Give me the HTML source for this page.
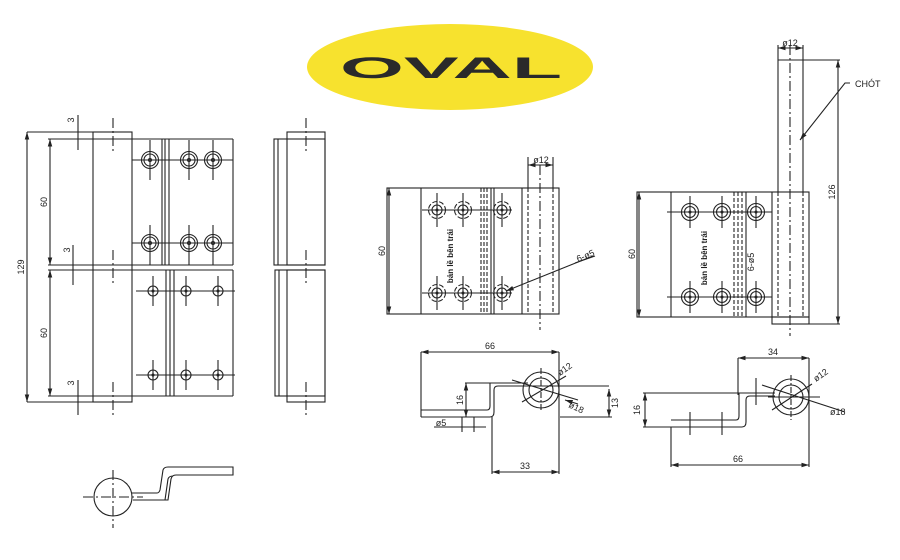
<!DOCTYPE html>
<html><head><meta charset="utf-8"><style>
html,body{margin:0;padding:0;background:#fff;width:900px;height:560px;overflow:hidden}
svg{display:block}
text{font-family:"Liberation Sans",sans-serif;fill:#222}
</style></head><body>
<svg width="900" height="560" viewBox="0 0 900 560" xmlns="http://www.w3.org/2000/svg">
<defs>
<marker id="a" viewBox="0 0 10 10" refX="10" refY="5" markerWidth="7" markerHeight="7" orient="auto-start-reverse"><path d="M0,2 L10,5 L0,8 z" fill="#222"/></marker>
<g id="h1" stroke="#222" fill="none"><circle r="8.5"/><circle r="6"/><circle r="1.5"/></g>
<g id="h2" stroke="#222" fill="none"><circle r="5"/><circle r="1"/></g>
<g id="h3" stroke="#222" fill="none"><circle r="8.5" stroke-dasharray="5,2"/><circle r="5"/><circle r="1"/></g>
<g id="h4" stroke="#222" fill="none"><circle r="8.5"/><circle r="5.5"/><circle r="1"/></g>
</defs>
<!-- logo -->
<ellipse cx="450" cy="67" rx="143" ry="43" fill="#F7E22E"/>
<text x="340" y="78" font-size="30" font-weight="bold" textLength="222" lengthAdjust="spacingAndGlyphs" style="fill:#2a2a2a">OVAL</text>

<g stroke="#222" stroke-width="1.1" fill="none">
<!-- LEFT FRONT VIEW -->
<rect x="93" y="132" width="39" height="270"/>
<line x1="27" y1="132" x2="93" y2="132"/><line x1="27" y1="402" x2="93" y2="402"/>
<line x1="27" y1="132" x2="27" y2="402" marker-start="url(#a)" marker-end="url(#a)"/>
<line x1="48" y1="139" x2="233" y2="139"/>
<line x1="48" y1="265" x2="233" y2="265"/>
<line x1="48" y1="270" x2="233" y2="270"/>
<line x1="48" y1="396" x2="233" y2="396"/>
<line x1="50" y1="139" x2="50" y2="265" marker-start="url(#a)" marker-end="url(#a)"/>
<line x1="50" y1="270" x2="50" y2="396" marker-start="url(#a)" marker-end="url(#a)"/>
<line x1="233" y1="139" x2="233" y2="265"/><line x1="233" y1="270" x2="233" y2="396"/>
<line x1="162" y1="139" x2="162" y2="265"/><line x1="165" y1="139" x2="165" y2="265"/><line x1="169" y1="139" x2="169" y2="265"/>
<line x1="166" y1="270" x2="166" y2="396"/><line x1="170" y1="270" x2="170" y2="396"/><line x1="174" y1="270" x2="174" y2="396"/>
<line x1="78" y1="115" x2="78" y2="150"/><line x1="73" y1="245" x2="73" y2="285"/><line x1="78" y1="380" x2="78" y2="415"/>
<line x1="113" y1="118" x2="113" y2="152" stroke-dasharray="10,3,2,3"/>
<line x1="113" y1="250" x2="113" y2="285" stroke-dasharray="10,3,2,3"/>
<line x1="113" y1="382" x2="113" y2="415" stroke-dasharray="10,3,2,3"/>
<line x1="132" y1="160" x2="233" y2="160"/><line x1="132" y1="243" x2="233" y2="243"/>
<line x1="136" y1="291" x2="235" y2="291"/><line x1="136" y1="375" x2="235" y2="375"/>
<use href="#h1" x="150" y="160"/><use href="#h1" x="189" y="160"/><use href="#h1" x="213" y="160"/>
<use href="#h1" x="150" y="243"/><use href="#h1" x="189" y="243"/><use href="#h1" x="213" y="243"/>
<use href="#h2" x="153" y="291"/><use href="#h2" x="186" y="291"/><use href="#h2" x="218" y="291"/>
<use href="#h2" x="153" y="375"/><use href="#h2" x="186" y="375"/><use href="#h2" x="218" y="375"/>
<path d="M150,140v40M189,140v40M213,140v40M150,225v40M189,225v40M213,225v40M153,276v30M186,276v30M218,276v30M153,360v30M186,360v30M218,360v30"/>

<!-- SIDE VIEW -->
<rect x="287" y="132" width="38" height="133"/>
<rect x="274" y="139" width="51" height="126"/>
<line x1="278" y1="139" x2="278" y2="265"/>
<rect x="275" y="270" width="50" height="126"/>
<rect x="287" y="270" width="38" height="132"/>
<line x1="279" y1="270" x2="279" y2="396"/>
<line x1="306" y1="118" x2="306" y2="152" stroke-dasharray="10,3,2,3"/>
<line x1="306" y1="250" x2="306" y2="285" stroke-dasharray="10,3,2,3"/>
<line x1="306" y1="382" x2="306" y2="415" stroke-dasharray="10,3,2,3"/>

<!-- BOTTOM LEFT PROFILE -->
<circle cx="113" cy="497" r="19"/>
<line x1="83" y1="497" x2="143" y2="497" stroke-dasharray="10,3,2,3"/>
<line x1="113" y1="470" x2="113" y2="528" stroke-dasharray="10,3,2,3"/>
<path d="M132,493 H157 Q159,493 160,490 L163,470 Q164,467 168,467 H233 V475 H176 Q172,475 171,479 L168,500 H133"/>
<path d="M165,500 L168,479 Q169,476 173,476"/>

<!-- MIDDLE FRONT -->
<rect x="387" y="188" width="172" height="126"/>
<line x1="421" y1="188" x2="421" y2="314"/>
<g stroke-dasharray="4,2"><line x1="481" y1="188" x2="481" y2="314"/><line x1="484" y1="188" x2="484" y2="314"/><line x1="487" y1="188" x2="487" y2="314"/><line x1="528" y1="188" x2="528" y2="314"/><line x1="553" y1="188" x2="553" y2="314"/></g>
<line x1="491" y1="188" x2="491" y2="314"/><line x1="494" y1="188" x2="494" y2="314"/>
<line x1="522" y1="188" x2="522" y2="314"/>
<line x1="528" y1="157" x2="528" y2="188"/><line x1="553" y1="157" x2="553" y2="188"/>
<line x1="528" y1="165" x2="553" y2="165" marker-start="url(#a)" marker-end="url(#a)"/>
<line x1="540" y1="165" x2="540" y2="330" stroke-dasharray="10,3,2,3"/>
<line x1="389" y1="188" x2="389" y2="314" marker-start="url(#a)" marker-end="url(#a)"/>
<use href="#h3" x="437" y="210"/><use href="#h3" x="463" y="210"/><use href="#h3" x="502" y="210"/>
<use href="#h3" x="437" y="293"/><use href="#h3" x="463" y="293"/><use href="#h3" x="502" y="293"/>
<path d="M422,210H512M422,293H512M437,193v34M463,193v34M502,193v34M437,276v34M463,276v34M502,276v34"/>
<line x1="593" y1="256" x2="506" y2="291" marker-end="url(#a)"/>
<line x1="575" y1="263" x2="595" y2="256"/>

<!-- MIDDLE BOTTOM PROFILE -->
<line x1="421" y1="352" x2="421" y2="417"/><line x1="559" y1="352" x2="559" y2="474"/>
<line x1="421" y1="352" x2="559" y2="352" marker-start="url(#a)" marker-end="url(#a)"/>
<path d="M421,417 H490 Q494,417 494,412 V390 Q494,386 498,386 H609"/>
<path d="M421,410 H487 Q490,410 490,406 V383 H465"/>
<line x1="490" y1="383" x2="528" y2="383"/>
<line x1="492" y1="417" x2="492" y2="474"/>
<line x1="492" y1="472" x2="559" y2="472" marker-start="url(#a)" marker-end="url(#a)"/>
<line x1="466" y1="383" x2="466" y2="417" marker-start="url(#a)" marker-end="url(#a)"/>
<line x1="560" y1="417" x2="612" y2="417"/>
<line x1="609" y1="389" x2="609" y2="417" marker-start="url(#a)" marker-end="url(#a)"/>
<circle cx="541" cy="390" r="18"/><circle cx="541" cy="390" r="12"/>
<line x1="541" y1="368" x2="541" y2="412" stroke-dasharray="6,2,2,2"/>
<line x1="512" y1="380" x2="578" y2="400"/>
<line x1="522" y1="402" x2="566" y2="376"/>
<line x1="578" y1="404" x2="565" y2="400" marker-end="url(#a)"/>
<line x1="434" y1="427" x2="486" y2="427"/>
<line x1="462" y1="417" x2="462" y2="432"/><line x1="474" y1="417" x2="474" y2="432"/>

<!-- RIGHT FRONT -->
<rect x="637" y="192" width="172" height="125"/>
<rect x="772" y="317" width="37" height="7"/>
<line x1="778" y1="60" x2="778" y2="192"/><line x1="803" y1="60" x2="803" y2="192"/>
<line x1="778" y1="60" x2="840" y2="60"/><line x1="809" y1="324" x2="840" y2="324"/>
<line x1="778" y1="48" x2="803" y2="48" marker-start="url(#a)" marker-end="url(#a)"/>
<line x1="778" y1="45" x2="778" y2="60"/><line x1="803" y1="45" x2="803" y2="60"/>
<line x1="790" y1="45" x2="790" y2="336" stroke-dasharray="10,3,2,3"/>
<line x1="838" y1="60" x2="838" y2="324" marker-start="url(#a)" marker-end="url(#a)"/>
<line x1="671" y1="192" x2="671" y2="317"/>
<line x1="772" y1="192" x2="772" y2="317"/>
<line x1="746" y1="192" x2="746" y2="317"/>
<g stroke-dasharray="4,2"><line x1="734" y1="192" x2="734" y2="317"/><line x1="738" y1="192" x2="738" y2="317"/><line x1="742" y1="192" x2="742" y2="317"/><line x1="778" y1="192" x2="778" y2="317"/><line x1="803" y1="192" x2="803" y2="317"/></g>
<line x1="639" y1="192" x2="639" y2="317" marker-start="url(#a)" marker-end="url(#a)"/>
<use href="#h4" x="690" y="212"/><use href="#h4" x="722" y="212"/><use href="#h4" x="756" y="212"/>
<use href="#h4" x="690" y="297"/><use href="#h4" x="722" y="297"/><use href="#h4" x="756" y="297"/>
<path d="M667,212H772M667,297H772M690,196v32M722,196v32M756,196v32M690,281v32M722,281v32M756,281v32"/>
<path d="M850,83 L845,83 L800,140" marker-end="url(#a)"/>

<!-- RIGHT BOTTOM PROFILE -->
<line x1="738" y1="358" x2="738" y2="395"/><line x1="809" y1="358" x2="809" y2="467"/>
<line x1="738" y1="358" x2="809" y2="358" marker-start="url(#a)" marker-end="url(#a)"/>
<line x1="643" y1="393" x2="740" y2="393"/>
<path d="M671,467 V427 H742 Q746,427 746,422 V400 Q746,396 750,396 H775"/>
<path d="M671,420 H736 Q739,420 739,416 V393 H775"/>
<line x1="645" y1="393" x2="645" y2="427" marker-start="url(#a)" marker-end="url(#a)"/>
<line x1="643" y1="427" x2="671" y2="427"/>
<line x1="671" y1="465" x2="809" y2="465" marker-start="url(#a)" marker-end="url(#a)"/>
<circle cx="791" cy="397" r="18"/><circle cx="791" cy="397" r="12"/>
<line x1="791" y1="375" x2="791" y2="420" stroke-dasharray="6,2,2,2"/>
<line x1="768" y1="397" x2="820" y2="397"/>
<line x1="762" y1="385" x2="845" y2="412"/>
<line x1="772" y1="410" x2="812" y2="384"/>
<line x1="690" y1="412" x2="690" y2="435"/><line x1="722" y1="412" x2="722" y2="435"/><line x1="756" y1="378" x2="756" y2="405"/>
</g>

<!-- labels -->
<g font-size="9">
<text x="74" y="120" transform="rotate(-90 74 120)" text-anchor="middle">3</text>
<text x="70" y="250" transform="rotate(-90 70 250)" text-anchor="middle">3</text>
<text x="74" y="383" transform="rotate(-90 74 383)" text-anchor="middle">3</text>
<text x="47" y="202" transform="rotate(-90 47 202)" text-anchor="middle">60</text>
<text x="47" y="333" transform="rotate(-90 47 333)" text-anchor="middle">60</text>
<text x="24" y="267" transform="rotate(-90 24 267)" text-anchor="middle">129</text>
<text x="541" y="163" text-anchor="middle">ø12</text>
<text x="385" y="251" transform="rotate(-90 385 251)" text-anchor="middle">60</text>
<text x="578" y="262" transform="rotate(-22 578 262)">6-ø5</text>
<text x="490" y="349" text-anchor="middle">66</text>
<text x="560" y="376" transform="rotate(-35 560 376)">ø12</text>
<text x="568" y="407" transform="rotate(25 568 407)">ø18</text>
<text x="463" y="400" transform="rotate(-90 463 400)" text-anchor="middle">16</text>
<text x="618" y="403" transform="rotate(-90 618 403)" text-anchor="middle">13</text>
<text x="441" y="426" text-anchor="middle">ø5</text>
<text x="525" y="469" text-anchor="middle">33</text>
<text x="790" y="46" text-anchor="middle">ø12</text>
<text x="855" y="87">CHÓT</text>
<text x="835" y="192" transform="rotate(-90 835 192)" text-anchor="middle">126</text>
<text x="635" y="254" transform="rotate(-90 635 254)" text-anchor="middle">60</text>
<text x="754" y="262" transform="rotate(-90 754 262)" text-anchor="middle">6-ø5</text>
<text x="773" y="355" text-anchor="middle">34</text>
<text x="816" y="382" transform="rotate(-35 816 382)">ø12</text>
<text x="830" y="415">ø18</text>
<text x="640" y="410" transform="rotate(-90 640 410)" text-anchor="middle">16</text>
<text x="738" y="462" text-anchor="middle">66</text>
</g>
<g font-size="8" font-weight="bold">
<text x="453" y="256" transform="rotate(-90 453 256)" text-anchor="middle">bản lề bên trái</text>
<text x="707" y="258" transform="rotate(-90 707 258)" text-anchor="middle">bản lề bên trái</text>
</g>
</svg>
</body></html>
